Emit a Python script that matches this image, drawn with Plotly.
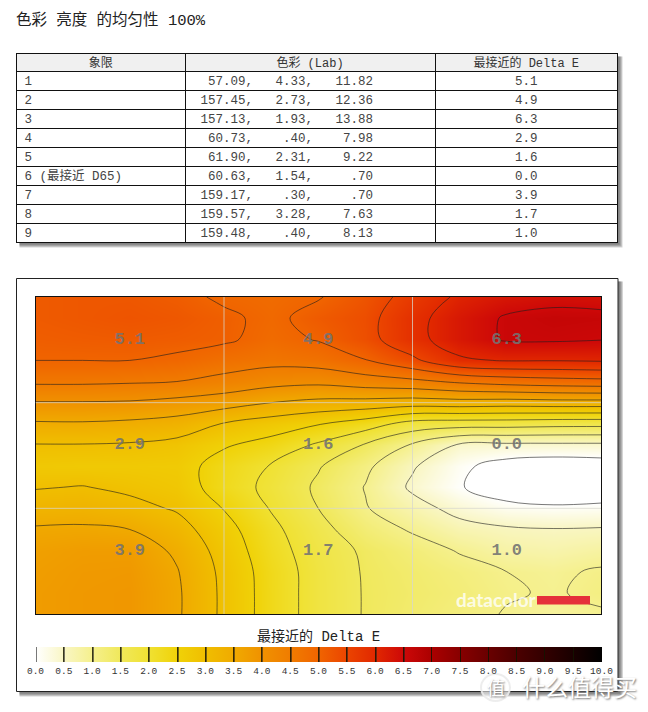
import plotly.graph_objects as go

W, H = 648, 712

# table data, as printed
quadrants = ["1", "2", "3", "4", "5", "6 (最接近 D65)", "7", "8", "9"]
lab_l = ["57.09", "157.45", "157.13", "60.73", "61.90", "60.63", "159.17", "159.57", "159.48"]
lab_a = ["4.33", "2.73", "1.93", ".40", "2.31", "1.54", ".30", "3.28", ".40"]
lab_b = ["11.82", "12.36", "13.88", "7.98", "9.22", ".70", ".70", "7.63", "8.13"]
delta_e = ["5.1", "4.9", "6.3", "2.9", "1.6", "0.0", "3.9", "1.7", "1.0"]

# surface, columns every quarter quadrant, rows every 0.2
grid_x = [0, .25, .5, .75, 1, 1.25, 1.5, 1.75, 2, 2.25, 2.5, 2.75, 3]
grid_y = [0, .2, .4, .6, .8, 1, 1.2, 1.4, 1.6, 1.8, 2, 2.2, 2.4, 2.6, 2.8, 3]
grid_z = [
    [5.15, 5.20, 5.20, 5.12, 4.93, 4.85, 4.97, 5.25, 5.68, 6.08, 6.28, 6.38, 6.35],
    [5.15, 5.20, 5.25, 5.20, 5.08, 4.90, 5.15, 5.35, 5.85, 6.25, 6.55, 6.62, 6.60],
    [5.10, 5.13, 5.15, 5.12, 5.07, 4.85, 5.03, 5.33, 5.85, 6.25, 6.55, 6.56, 6.52],
    [5.00, 5.00, 5.00, 4.93, 4.75, 4.65, 4.72, 4.98, 5.40, 5.93, 6.03, 6.02, 6.05],
    [4.58, 4.58, 4.55, 4.50, 4.35, 4.18, 4.12, 4.27, 4.38, 4.58, 4.72, 4.80, 4.85],
    [3.97, 3.97, 3.95, 3.85, 3.72, 3.50, 3.37, 3.33, 3.25, 3.30, 3.26, 3.30, 3.30],
    [3.44, 3.45, 3.40, 3.30, 2.97, 2.75, 2.53, 2.25, 1.80, 1.73, 1.72, 1.67, 1.66],
    [2.98, 2.98, 2.95, 2.85, 2.55, 2.33, 1.93, 1.46, 0.95, 0.44, 0.40, 0.40, 0.40],
    [2.75, 2.72, 2.72, 2.70, 2.30, 1.97, 1.54, 1.10, 0.55, 0.10, -.20, -.30, -.25],
    [2.97, 3.02, 2.90, 2.78, 2.25, 1.88, 1.42, 0.98, 0.42, 0.03, -.25, -.35, -.30],
    [3.25, 3.27, 3.15, 2.95, 2.48, 1.97, 1.50, 1.03, 0.68, 0.35, 0.13, 0.07, 0.10],
    [3.55, 3.57, 3.50, 3.20, 2.68, 2.12, 1.65, 1.23, 0.95, 0.66, 0.56, 0.52, 0.54],
    [3.70, 3.78, 3.78, 3.42, 2.80, 2.20, 1.75, 1.43, 1.20, 0.97, 0.77, 0.72, 0.82],
    [3.75, 3.83, 3.85, 3.53, 2.88, 2.27, 1.80, 1.46, 1.30, 1.15, 1.00, 0.93, 1.05],
    [3.78, 3.85, 3.88, 3.57, 2.90, 2.28, 1.80, 1.47, 1.33, 1.20, 1.04, 0.96, 1.10],
    [3.78, 3.85, 3.88, 3.57, 2.90, 2.28, 1.80, 1.47, 1.30, 1.15, 0.97, 0.85, 0.95],
]

label_x = [.5, 1.5, 2.5] * 3
label_y = [.4, .4, .4, 1.4, 1.4, 1.4, 2.4, 2.4, 2.4]

scale_ticks = [i * .5 for i in range(21)]
scale_colors = [
    "#ffffff", "#f9f6c4", "#f5f08c", "#f0e85a", "#f0e132", "#f0d208", "#f0be00",
    "#f0aa00", "#f09100", "#f07c00", "#f06400", "#eb4400", "#e12800", "#cd0808",
    "#aa0000", "#870000", "#690000", "#4b0000", "#320000", "#190000", "#000000",
]

mono = '"Liberation Mono", "Noto Sans CJK SC", monospace'
nb = "\u00a0"


def px_x(v):
    return v / W


def px_y(v):
    return 1 - v / H


lab_text = [
    (l.rjust(7) + "," + a.rjust(7) + "," + b.rjust(8)).replace(" ", nb)
    for l, a, b in zip(lab_l, lab_a, lab_b)
]

fig = go.Figure()

fig.add_trace(go.Contour(
    x=grid_x, y=grid_y, z=grid_z,
    zmin=0, zmax=10,
    colorscale=[[t / 10, c] for t, c in zip(scale_ticks, scale_colors)],
    contours=dict(coloring="heatmap", start=0, end=6.5, size=.5),
    line=dict(color="rgba(30,30,30,0.6)", width=1, smoothing=1),
    hoverinfo="skip",
    colorbar=dict(
        orientation="h", xref="container", yref="container",
        x=px_x(35.5), xanchor="left", y=px_y(647), yanchor="top",
        len=565.5, lenmode="pixels", thickness=15, thicknessmode="pixels",
        xpad=0, ypad=0, outlinewidth=0,
        tickvals=scale_ticks, ticktext=["%.1f" % t for t in scale_ticks],
        ticks="inside", ticklen=15, tickwidth=1, tickcolor="rgba(20,20,0,0.85)",
        tickfont=dict(family=mono, size=9.5, color="#333333"),
    ),
))

fig.add_trace(go.Scatter(
    x=label_x, y=label_y, text=delta_e, mode="text",
    textposition="middle center", hoverinfo="skip", showlegend=False,
    textfont=dict(family=mono, size=17, color="rgba(115,115,115,0.9)", weight="bold"),
))

fig.add_trace(go.Table(
    domain=dict(x=[px_x(16.5), px_x(617.5)], y=[px_y(246), px_y(53)]),
    columnwidth=[168.5, 250, 182.5],
    header=dict(
        values=["象限", "色彩 (Lab)", "最接近的 Delta E"],
        height=18, align="center",
        fill_color="#f0f0f0", line=dict(color="#111111", width=1),
        font=dict(family=mono, size=12, color="#333333"),
    ),
    cells=dict(
        values=[quadrants, lab_text, delta_e],
        height=19, align=["left", "left", "center"],
        fill_color="#ffffff", line=dict(color="#111111", width=1),
        font=dict(family=mono, size=12.5, color="#444444"),
    ),
))

shapes = []
# soft drop shadows for the table and the chart panel
for box in [(16.5, 53.5, 617.5, 242.5), (16.5, 278.5, 618, 691.5)]:
    for off in [5, 4, 3, 2]:
        shapes.append(dict(
            type="rect", xref="paper", yref="paper", layer="below",
            x0=px_x(box[0] + 3), x1=px_x(box[2] + off),
            y0=px_y(box[3] + off), y1=px_y(box[1] + 3),
            fillcolor="rgba(60,60,60,0.22)", line_width=0,
        ))
shapes.append(dict(
    type="rect", xref="paper", yref="paper", layer="below",
    x0=px_x(16.5), x1=px_x(618), y0=px_y(691.5), y1=px_y(278.5),
    fillcolor="#ffffff", line=dict(color="#222222", width=1),
))
# quadrant lines
for v in [1, 2]:
    shapes.append(dict(type="line", x0=v, x1=v, y0=0, y1=3,
                       line=dict(color="rgba(215,215,205,0.75)", width=1)))
    shapes.append(dict(type="line", x0=0, x1=3, y0=v, y1=v,
                       line=dict(color="rgba(215,215,205,0.75)", width=1)))
# logo bar
shapes.append(dict(type="rect", xref="paper", yref="paper",
                   x0=px_x(537), x1=px_x(590), y0=px_y(604.5), y1=px_y(596),
                   fillcolor="#e5303a", line_width=0))
# watermark ring
shapes.append(dict(type="circle", xref="paper", yref="paper",
                   x0=px_x(481), x1=px_x(510), y0=px_y(701), y1=px_y(674),
                   fillcolor="rgba(255,255,255,0.55)", line=dict(color="rgba(235,235,235,0.9)", width=2)))

annotations = [
    dict(text="最接近的 Delta E", xref="paper", yref="paper", x=px_x(318), y=px_y(636),
         showarrow=False, xanchor="center", yanchor="middle",
         font=dict(family=mono, size=14, color="#222222")),
    dict(text="datacolor", xref="paper", yref="paper", x=px_x(496.5), y=px_y(599),
         showarrow=False, xanchor="center", yanchor="middle",
         font=dict(family="Lato", size=19, color="rgba(255,255,255,0.8)", weight="bold")),
    dict(text="值", xref="paper", yref="paper", x=px_x(495.5), y=px_y(687),
         showarrow=False, xanchor="center", yanchor="middle",
         font=dict(family="Noto Sans CJK SC", size=18, color="#ffffff", shadow="1px 1px 2px #777777")),
    dict(text="什么值得买", xref="paper", yref="paper", x=px_x(579), y=px_y(686),
         showarrow=False, xanchor="center", yanchor="middle",
         font=dict(family="Noto Sans CJK SC", size=23, color="#ffffff", shadow="1px 1px 2px #777777")),
]

fig.update_layout(
    width=W, height=H,
    margin=dict(l=0, r=0, t=0, b=0, autoexpand=False),
    paper_bgcolor="#ffffff", plot_bgcolor="#ffffff",
    showlegend=False,
    title=dict(
        text="色彩 亮度 的均匀性 100%", x=px_x(16), xanchor="left", xref="container",
        y=px_y(20), yanchor="middle", yref="container",
        font=dict(family=mono, size=15.5, color="#222222"),
    ),
    xaxis=dict(domain=[px_x(35.5), px_x(601)], range=[0, 3], showgrid=False, zeroline=False,
               showticklabels=False, ticks="", showline=True, mirror=True,
               linecolor="#111111", linewidth=1),
    yaxis=dict(domain=[px_y(614), px_y(297)], range=[3, 0], showgrid=False, zeroline=False,
               showticklabels=False, ticks="", showline=True, mirror=True,
               linecolor="#111111", linewidth=1),
    shapes=shapes,
    annotations=annotations,
)

# page margin off, table text sits a bit higher than plotly puts it
page_js = (
    "document.body.style.margin='0';"
    "var s=document.createElement('style');"
    "s.textContent='.cell-text{transform:translateY(-3px)}';"
    "document.head.appendChild(s);"
)
fig.write_html("out.html", post_script=page_js, config={"displayModeBar": False})
